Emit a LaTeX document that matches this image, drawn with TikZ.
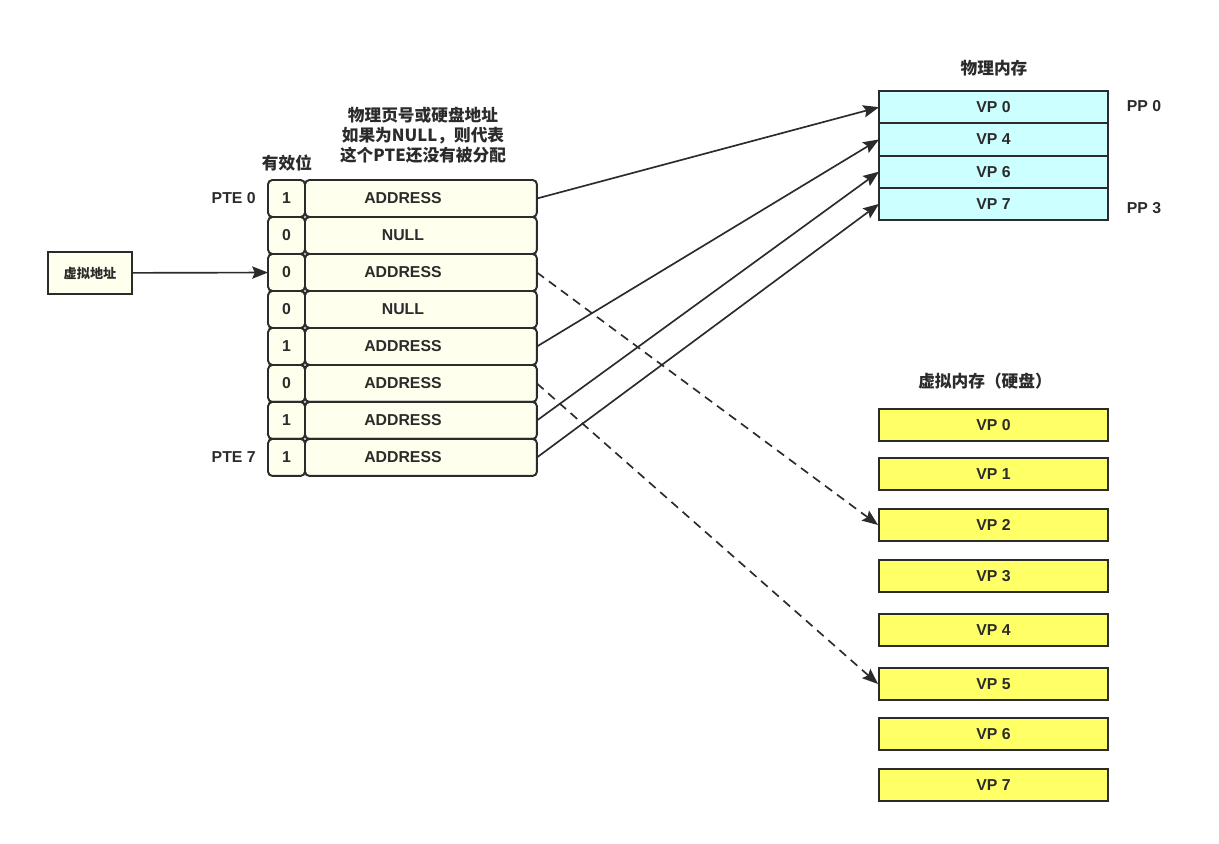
\documentclass[tikz,border=0pt]{standalone}
\usepackage{fontspec}
\setmainfont{Liberation Sans}
\newfontfamily\cjk{Noto Sans CJK SC}
\usetikzlibrary{arrows.meta,positioning}

\definecolor{crema}{HTML}{FFFFEE}
\definecolor{cian}{HTML}{CCFFFF}
\definecolor{amarillo}{HTML}{FFFF66}
\definecolor{borde}{HTML}{2B2B2B}

\begin{document}
\begin{tikzpicture}[
    x=0.02cm, y=-0.02cm,
    node distance=0pt,
    every node/.style={font=\bfseries\fontsize{9}{11}\selectfont, text=borde},
    cell/.style={rectangle, rounded corners=2.5pt, draw=borde, fill=crema, line width=1.1pt, outer sep=0pt, minimum height=0.74cm, inner sep=0pt},
    bit/.style={cell, minimum width=0.74cm},
    addr/.style={cell, minimum width=4.64cm, execute at begin node={\hspace*{-0.72cm}}},
    phys/.style={rectangle, draw=borde, fill=cian, line width=1.1pt, outer sep=0pt, minimum width=4.58cm, minimum height=0.645cm, inner sep=0pt},
    disk/.style={rectangle, draw=borde, fill=amarillo, line width=1.1pt, minimum width=4.58cm, minimum height=0.64cm, inner sep=0pt},
    title/.style={font=\cjk\bfseries\fontsize{9.5}{11.3}\selectfont, align=center},
    arrow/.style={line width=0.95pt, draw=borde, -{Stealth[length=9pt,width=7pt,inset=1.5pt]}},
    dasharrow/.style={arrow, dash pattern=on 5pt off 3.5pt}
]
\useasboundingbox (0,0) rectangle (1219,844);

% TABLA DE PAGINAS
\node[bit] (bit0) at (286.5,198.5) {1};
\node[bit, below=of bit0] (bit1) {0};
\node[bit, below=of bit1] (bit2) {0};
\node[bit, below=of bit2] (bit3) {0};
\node[bit, below=of bit3] (bit4) {1};
\node[bit, below=of bit4] (bit5) {0};
\node[bit, below=of bit5] (bit6) {1};
\node[bit, below=of bit6] (bit7) {1};
\node[addr, right=of bit0] (pte0) {ADDRESS};
\node[addr, right=of bit1] (pte1) {NULL};
\node[addr, right=of bit2] (pte2) {ADDRESS};
\node[addr, right=of bit3] (pte3) {NULL};
\node[addr, right=of bit4] (pte4) {ADDRESS};
\node[addr, right=of bit5] (pte5) {\raisebox{-2pt}{ADDRESS}};
\node[addr, right=of bit6] (pte6) {ADDRESS};
\node[addr, right=of bit7] (pte7) {ADDRESS};

\node[left=3.5pt of bit0] (lab0) {PTE 0};
\node[left=3.5pt of bit7] (lab7) {PTE 7};
\node[title] (valid) at (287,163) {有效位};
\node[title] (head) at (423,135) {物理页号或硬盘地址\\如果为NULL，则代表\\这个PTE还没有被分配};

% DIRECCION VIRTUAL
\node[rectangle, draw=borde, fill=crema, line width=1.1pt, minimum width=1.68cm, minimum height=0.84cm, font=\cjk\bfseries\fontsize{7.5}{9}\selectfont] (va) at (90,273) {虚拟地址};
\draw[arrow] (va) -- (bit2);

% MEMORIA FISICA
\node[title] (phystitle) at (994,68) {物理内存};
\node[phys] (pp0) at (993.5,107.2) {VP 0};
\node[phys, below=of pp0] (pp1) {VP 4};
\node[phys, below=of pp1] (pp2) {VP 6};
\node[phys, below=of pp2] (pp3) {VP 7};
\node (pplab0) at (1144,106) {PP 0};
\node (pplab3) at (1144,208) {PP 3};

% MEMORIA VIRTUAL (DISCO)
\node[title] (disktitle) at (985,381) {虚拟内存（硬盘）};
\node[disk] (vp0) at (993.5,425) {VP 0};
\node[disk] (vp1) at (993.5,474) {VP 1};
\node[disk] (vp2) at (993.5,525) {VP 2};
\node[disk] (vp3) at (993.5,576) {VP 3};
\node[disk] (vp4) at (993.5,630) {VP 4};
\node[disk] (vp5) at (993.5,684) {VP 5};
\node[disk] (vp6) at (993.5,734) {VP 6};
\node[disk] (vp7) at (993.5,785) {VP 7};

% CONEXIONES
\draw[arrow] (pte0.east) -- (pp0.west);
\draw[arrow] (pte4.east) -- (pp1.west);
\draw[arrow] (pte6.east) -- (pp2.west);
\draw[arrow] (pte7.east) -- (pp3.west);
\draw[dasharrow] (pte2.east) -- (vp2.west);
\draw[dasharrow] (pte5.east) -- (vp5.west);

\end{tikzpicture}
\end{document}
